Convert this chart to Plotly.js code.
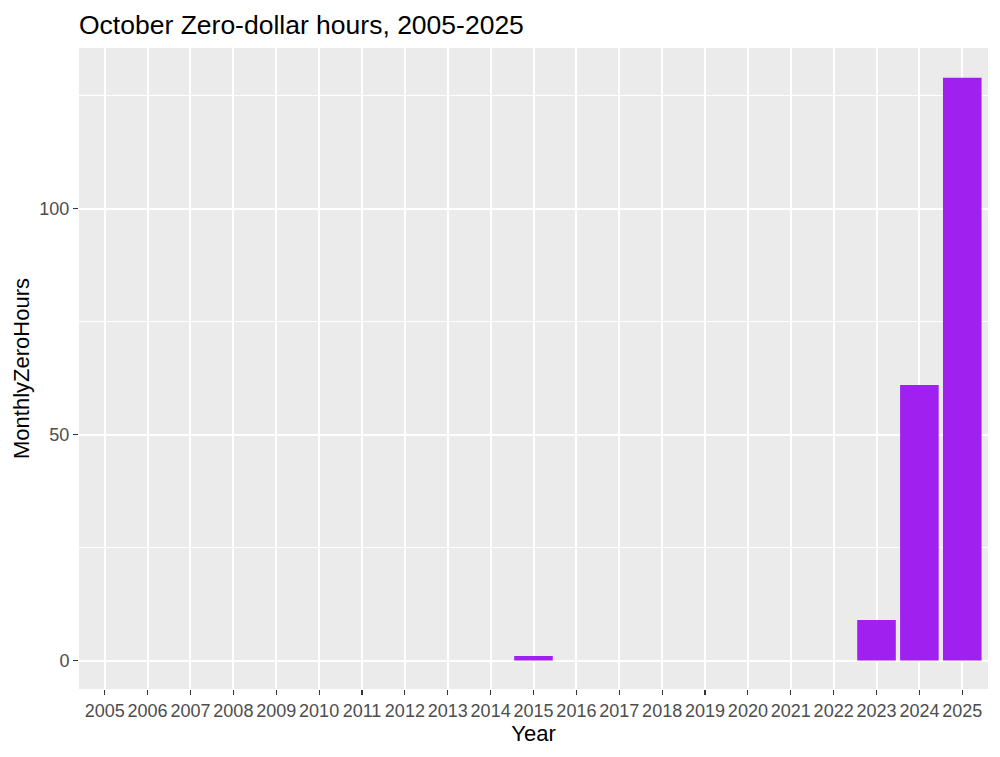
<!DOCTYPE html>
<html>
<head>
<meta charset="utf-8">
<script src="https://cdn.plot.ly/plotly-3.0.1.min.js"></script>
<style>html,body{margin:0;padding:0;background:#fff;}#chart{width:1000px;height:757px;}</style>
</head>
<body>
<div id="chart"></div>
<script>
const years = ["2005","2006","2007","2008","2009","2010","2011","2012","2013","2014","2015","2016","2017","2018","2019","2020","2021","2022","2023","2024","2025"];
const monthlyZeroHours = [0,0,0,0,0,0,0,0,0,0,1,0,0,0,0,0,0,0,9,61,129];
const yTicks = [0,50,100];

const font = "Liberation Sans, Arial, sans-serif";
const trace = {
  type: "bar",
  x: years,
  y: monthlyZeroHours,
  marker: {color: "#A020F0", line: {width: 0}},
  hoverinfo: "x+y"
};
const layout = {
  width: 1000, height: 757,
  paper_bgcolor: "#ffffff",
  plot_bgcolor: "#EBEBEB",
  margin: {l: 79, r: 12, t: 48, b: 68, pad: 0},
  bargap: 0.1,
  showlegend: false,
  font: {family: font, color: "#000"},
  title: {
    text: "October Zero-dollar hours, 2005-2025",
    font: {family: font, size: 26.5, color: "#000"},
    x: 79/1000, xref: "container", xanchor: "left",
    y: 1 - 24.5/757, yref: "container", yanchor: "middle"
  },
  xaxis: {
    type: "category",
    range: [-0.6, 20.6],
    showgrid: true, gridcolor: "#ffffff", gridwidth: 2,
    zeroline: false, showline: false,
    ticks: "outside", ticklen: 5, tickwidth: 1.2, tickcolor: "#333333",
    tickfont: {family: font, size: 18, color: "#4D4D4D"},
    tickangle: 0,
    automargin: false,
    title: {text: "Year", font: {family: font, size: 22, color: "#000"}, standoff: 6}
  },
  yaxis: {
    range: [-6.3, 135.6],
    tickvals: yTicks,
    ticktext: yTicks.map(String),
    showgrid: true, gridcolor: "#ffffff", gridwidth: 2,
    minor: {tickvals: [25, 75, 125], showgrid: true, gridcolor: "#ffffff", gridwidth: 1, ticks: ""},
    zeroline: false, showline: false,
    ticks: "outside", ticklen: 5, tickwidth: 1.2, tickcolor: "#333333",
    tickfont: {family: font, size: 18, color: "#4D4D4D"},
    automargin: false,
    title: {text: "MonthlyZeroHours", font: {family: font, size: 22, color: "#000"}, standoff: 3}
  }
};
Plotly.newPlot("chart", [trace], layout, {displayModeBar: false, staticPlot: true});
</script>
</body>
</html>
